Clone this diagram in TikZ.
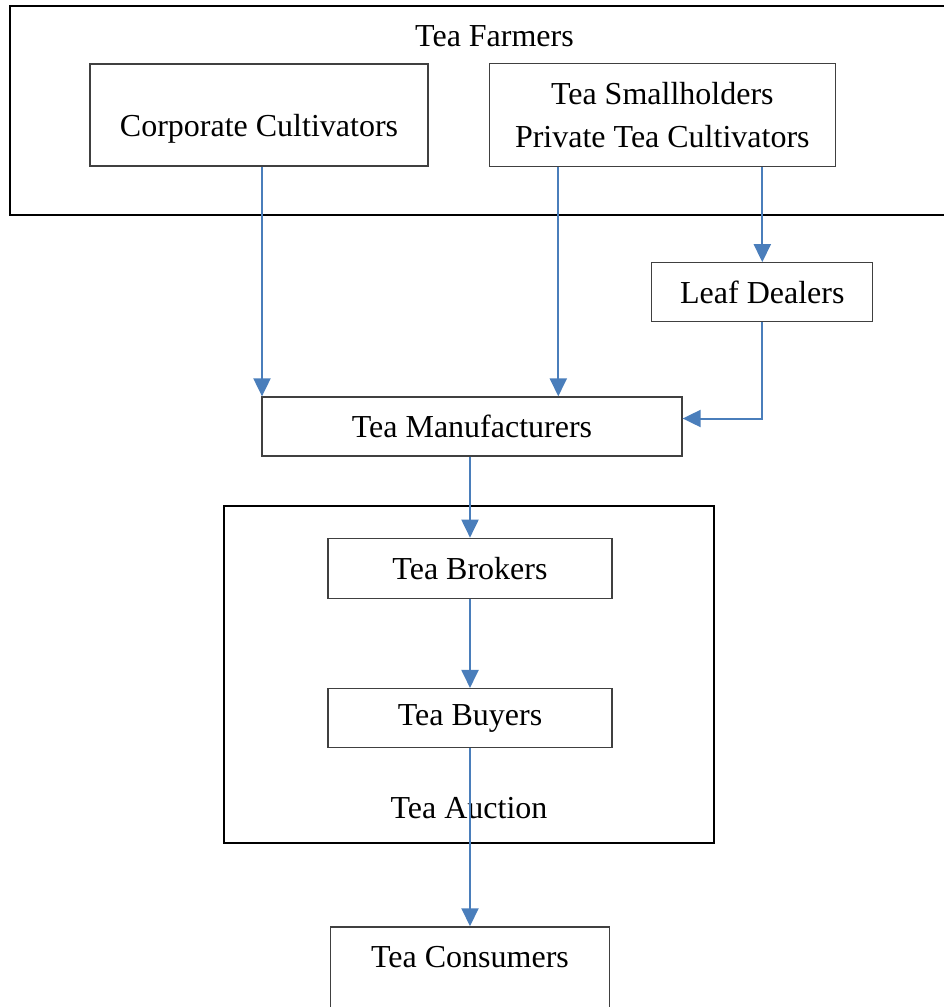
\documentclass[tikz,border=0pt]{standalone}
\usepackage{fontspec}
\setmainfont{Liberation Serif}
\usepackage{tikz}
\usetikzlibrary{arrows.meta, positioning, calc}
\definecolor{flowblue}{HTML}{4A7EBB}

\begin{document}
\begin{tikzpicture}[
                x=1pt, y=-1pt,
                font=\fontsize{32}{43}\selectfont,
                entity/.style={rectangle, draw=black!75, line width=1.3pt, inner sep=0pt, align=center},
                group/.style={rectangle, draw=black, line width=2pt, inner sep=0pt},
                title/.style={inner sep=0pt},
                arrow/.style={draw=flowblue, line width=2pt, -{Triangle[width=17pt, length=18pt]}}
            ]%
            \useasboundingbox (0,0) rectangle (943,1007);
            %
            % Grupos
            \node[group, minimum width=969pt, minimum height=209pt] (farmers) at (494.5,110.5) {};
            \node[title] (farmerstitle) at ([yshift=-31pt]farmers.north) {Tea Farmers};
            \node[group, minimum width=490pt, minimum height=337pt] (auction) at (469,674.5) {};
            \node[title] (auctiontitle) at ([yshift=36pt]auction.south) {Tea Auction};
            %
            % Nodos Principales
            \node[entity, minimum width=338pt, minimum height=102pt, text height=49pt, text depth=7pt] (corporate) at (259,115) {Corporate Cultivators};
            \node[entity, minimum width=346pt, minimum height=103pt, right=60pt of corporate] (smallholders) {Tea Smallholders\\Private Tea Cultivators};
            \node[entity, minimum width=221pt, minimum height=59pt, below=95pt of smallholders, xshift=100pt] (dealers) {Leaf Dealers};
            \node[entity, minimum width=420pt, minimum height=59pt] (manufacturers) at (472,426.5) {Tea Manufacturers};
            \node[entity, minimum width=284pt, minimum height=60pt, below=81pt of manufacturers, xshift=-2pt] (brokers) {Tea Brokers};
            \node[entity, minimum width=284pt, minimum height=59pt, below=89pt of brokers] (buyers) {Tea Buyers};
            \node[entity, minimum width=279pt, minimum height=90pt, text height=22pt, text depth=31pt, below=178pt of buyers] (consumers) {Tea Consumers};
            %
            % Conexiones
            \draw[arrow] ([xshift=3pt]corporate.south) -- ([xshift=3pt]corporate.south |- manufacturers.north);
            \draw[arrow] ([xshift=-104pt]smallholders.south) -- ([xshift=-104pt]smallholders.south |- manufacturers.north);
            \draw[arrow] (dealers.north |- smallholders.south) -- (dealers.north);
            \draw[arrow] (dealers.south) |- ([yshift=8pt]manufacturers.east);
            \draw[arrow] (brokers.north |- manufacturers.south) -- (brokers.north);
            \draw[arrow] (brokers.south) -- (buyers.north);
            \draw[arrow] (buyers.south) -- (consumers.north);
        \end{tikzpicture}
\end{document}
